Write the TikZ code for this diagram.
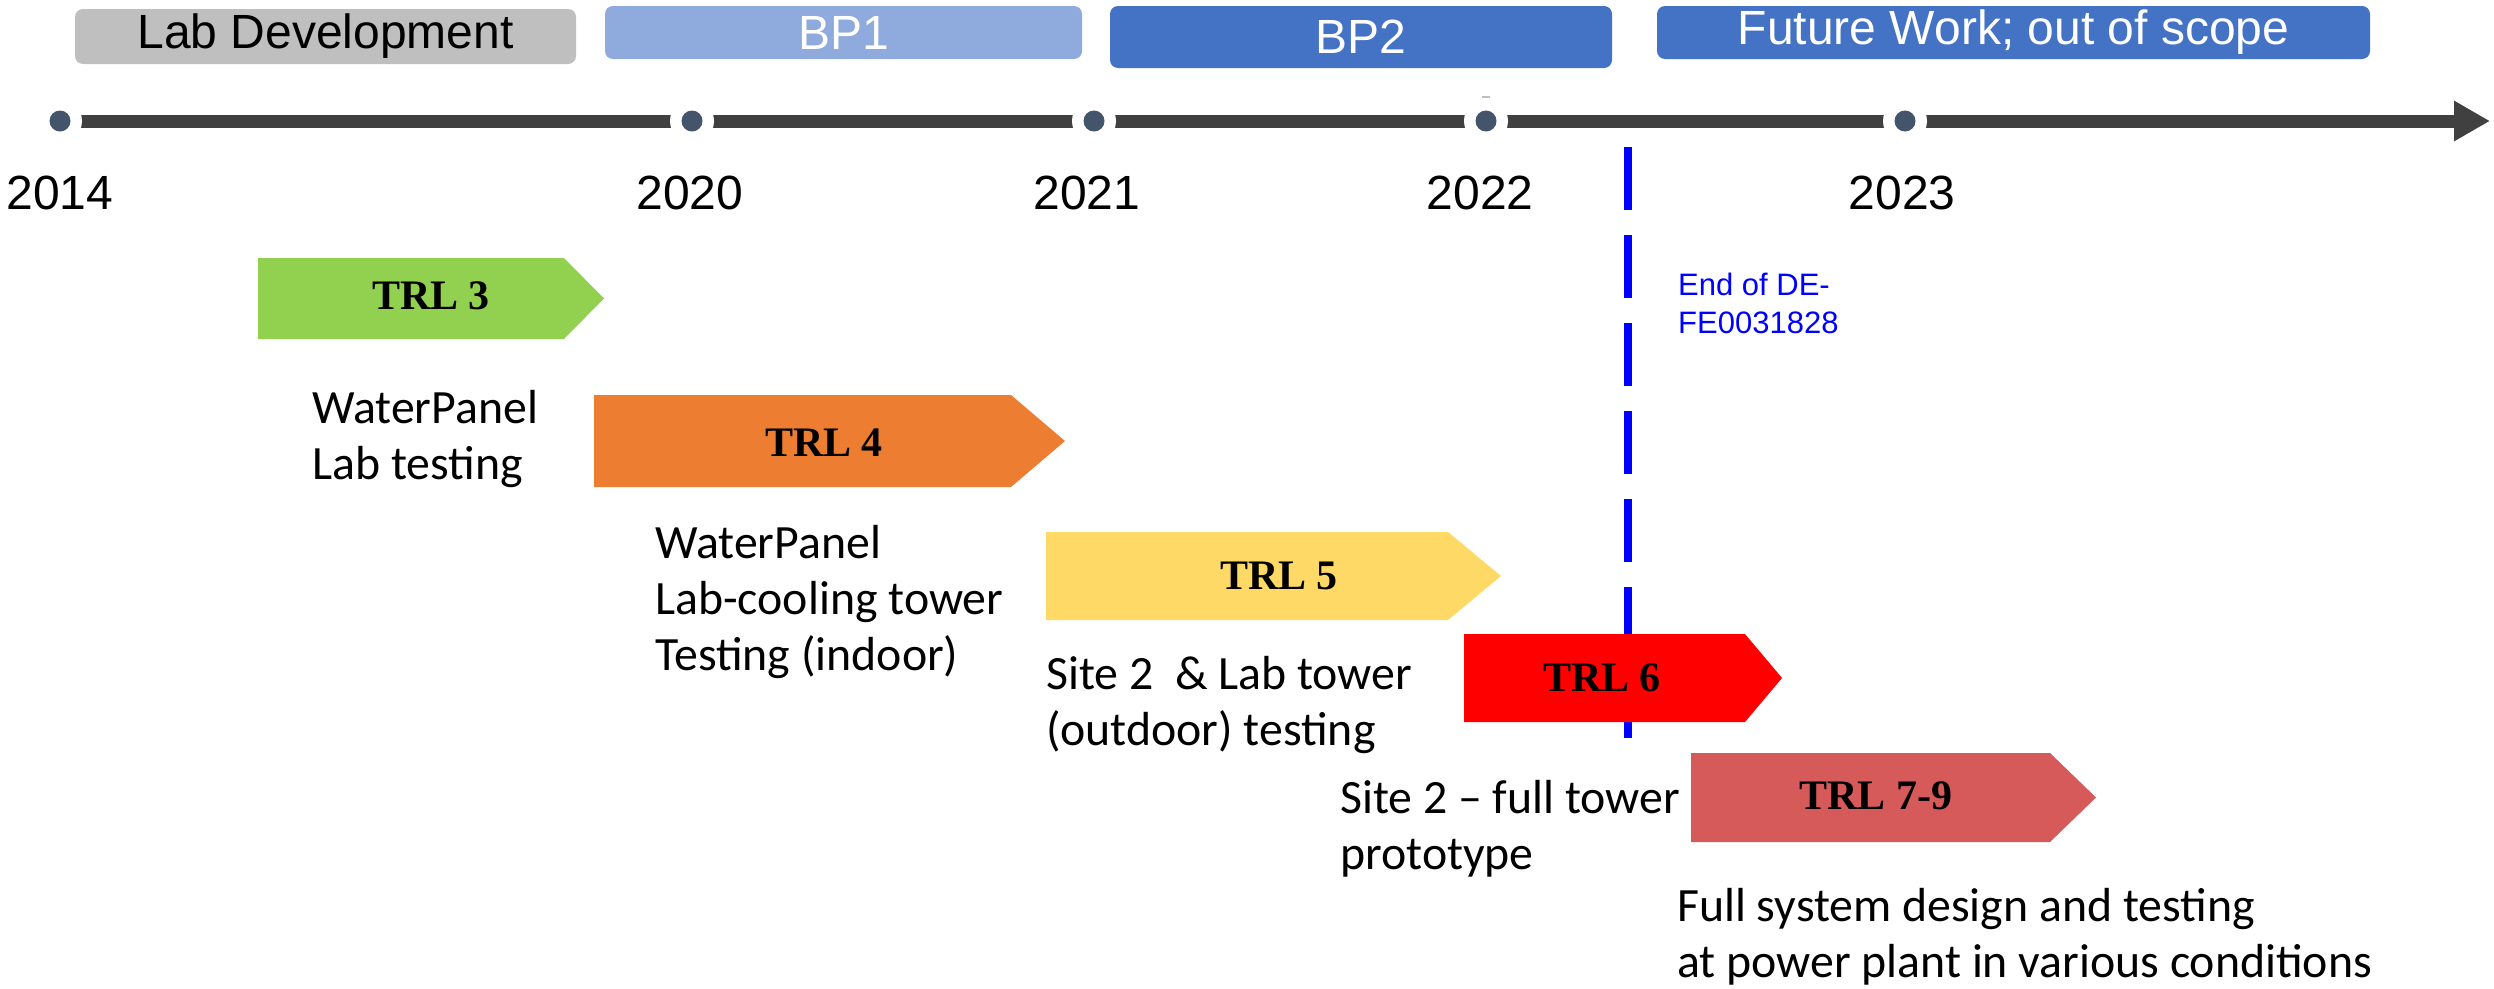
\documentclass[tikz,border=0pt]{standalone}
\usepackage{fontspec}
\setmainfont{Liberation Sans}
\newfontfamily\calfont{Carlito}
\newfontfamily\tmsfont{Liberation Serif}
\usetikzlibrary{arrows.meta}
\definecolor{labgray}{HTML}{BFBFBF}
\definecolor{bpone}{HTML}{8FAADC}
\definecolor{bptwo}{HTML}{4472C4}
\definecolor{tlgray}{HTML}{404040}
\definecolor{dotcol}{HTML}{44546A}
\definecolor{trlthree}{HTML}{92D050}
\definecolor{trlfour}{HTML}{ED7D31}
\definecolor{trlfive}{HTML}{FFD966}
\definecolor{trlsix}{HTML}{FF0000}
\definecolor{trlseven}{HTML}{D65A5A}
\tikzset{
  barbox/.style={rounded corners=8pt, inner sep=0pt, font=\fontsize{48}{58}\selectfont},
  yearlbl/.style={anchor=base, inner sep=0pt, font=\fontsize{48}{58}\selectfont},
  tldot/.style={circle, fill=dotcol, inner sep=0pt, minimum size=21pt},
  trllbl/.style={inner sep=0pt, font=\tmsfont\bfseries\fontsize{42}{48}\selectfont},
  desc/.style={anchor=base west, inner sep=0pt, align=left, font=\calfont\fontsize{47.8}{56}\selectfont},
}
\begin{document}
\begin{tikzpicture}[x=1pt,y=-1pt]
\useasboundingbox (0,0) rectangle (2494,988);
% top period bars
\node[barbox, fill=labgray, minimum width=501pt, minimum height=55pt] (lab) at (325.5,36.5) {Lab Development};
\node[barbox, fill=bpone, text=white, minimum width=477pt, minimum height=53pt] (bp1) at (843.5,32.5) {BP1};
\node[barbox, fill=bptwo, text=white, minimum width=502pt, minimum height=62pt] (bp2) at (1361,37) {BP2};
\node[barbox, fill=bptwo, text=white, minimum width=713pt, minimum height=53pt] (fut) at (2013.5,32.5) {Future Work; out of scope};
% timeline
\coordinate (c2014) at (60,121);
\coordinate (c2020) at (692,121);
\coordinate (c2021) at (1094,121);
\coordinate (c2022) at (1486,121);
\coordinate (c2023) at (1905,121);
\coordinate (tlend) at (2490,121);
\draw[tlgray, line width=13pt, -{Triangle[length=36pt,width=38pt]}] (c2014) -- (tlend);
\foreach \c in {c2014,c2020,c2021,c2022,c2023} \fill[white] (\c) circle (22pt);
\node[tldot] (d2014) at (c2014) {};
\node[tldot] (d2020) at (c2020) {};
\node[tldot] (d2021) at (c2021) {};
\node[tldot] (d2022) at (c2022) {};
\node[tldot] (d2023) at (c2023) {};
\draw[gray!50, line width=2pt] (1482,97) -- (1490,97);
% years
\node[yearlbl] (y2014) at (60,209) {2014};
\node[yearlbl] (y2020) at (690,209) {2020};
\node[yearlbl] (y2021) at (1087,209) {2021};
\node[yearlbl] (y2022) at (1480,209) {2022};
\node[yearlbl] (y2023) at (1902,209) {2023};
% end of project line
\coordinate (eTop) at (1628,147);
\coordinate (eBot) at (1628,738);
\draw[blue, line width=8pt, dash pattern=on 63pt off 25pt] (eTop) -- (eBot);
\node[anchor=base west, inner sep=0pt, align=left, text=blue, font=\fontsize{31}{38}\selectfont] (endlbl) at (1678,333) {End of DE-\\FE0031828};
% TRL arrows
\fill[trlthree] (258,258) -- (564,258) -- (604,298.5) -- (564,339) -- (258,339) -- cycle;
\node[trllbl] (trl3) at (431,296) {TRL 3};
\fill[trlfour] (594,395) -- (1011,395) -- (1065,441) -- (1011,487) -- (594,487) -- cycle;
\node[trllbl] (trl4) at (824,443) {TRL 4};
\fill[trlfive] (1046,532) -- (1448,532) -- (1501,576) -- (1448,620) -- (1046,620) -- cycle;
\node[trllbl] (trl5) at (1279,576) {TRL 5};
\fill[trlsix] (1464,634) -- (1745,634) -- (1782,678) -- (1745,722) -- (1464,722) -- cycle;
\node[trllbl] (trl6) at (1602,678) {TRL 6};
\fill[trlseven] (1691,753) -- (2050,753) -- (2096,797.5) -- (2050,842) -- (1691,842) -- cycle;
\node[trllbl] (trl7) at (1876,796) {TRL 7-9};
% descriptions (anchor = baseline of last line)
\node[desc] (t1) at (312,479) {WaterPanel\\Lab testing};
\node[desc] (t2) at (655,670) {WaterPanel\\Lab-cooling tower\\Testing (indoor)};
\node[desc] (t3) at (1046,745) {Site 2\ \ \& Lab tower\\(outdoor) testing};
\node[desc] (t4) at (1340,869) {Site 2 – full tower\\prototype};
\node[desc] (t5) at (1677,977) {Full system design and testing\\at power plant in various conditions};
\end{tikzpicture}
\end{document}
